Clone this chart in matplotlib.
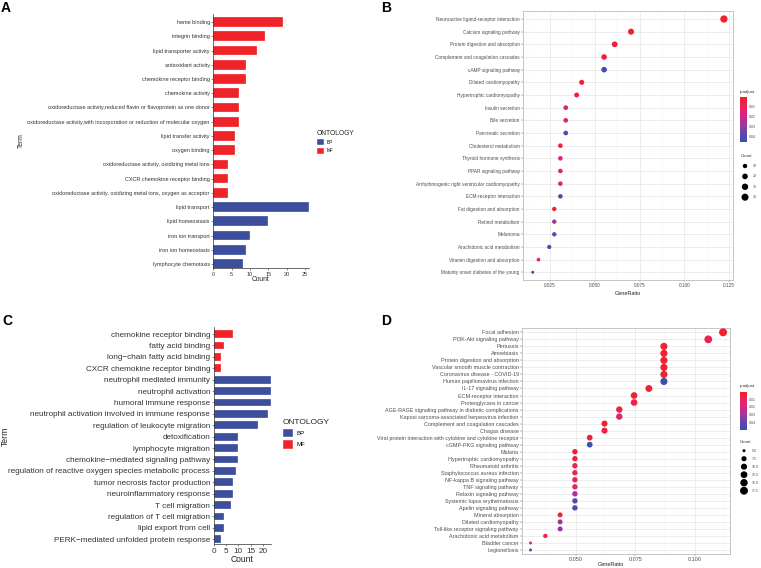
import numpy as np
import matplotlib
matplotlib.use('Agg')
import matplotlib.pyplot as plt
from matplotlib.colors import LinearSegmentedColormap, Normalize
from matplotlib.patches import Patch
import matplotlib.cm as cm

plt.rcParams['font.family'] = ['Liberation Sans', 'DejaVu Sans']

# --- Painel A: GO (BP/MF) ---
a_terms = ['heme binding', 'integrin binding', 'lipid transporter activity', 'antioxidant activity',
           'chemokine receptor binding', 'chemokine activity',
           'oxidoreductase activity,reduced flavin or flavoprotein as one donor',
           'oxidoreductase activity,with incorporation or reduction of molecular oxygen',
           'lipid transfer activity', 'oxygen binding', 'oxidoreductase activity, oxidizing metal ions',
           'CXCR chemokine receptor binding',
           'oxidoreductase activity, oxidizing metal ions, oxygen as acceptor',
           'lipid transport', 'lipid homeostasis', 'iron ion transport', 'iron ion homeostasis',
           'lymphocyte chemotaxis']
a_counts = [19, 14, 12, 9, 9, 7, 7, 7, 6, 6, 4, 4, 4, 26, 15, 10, 9, 8]
a_onto = ['MF'] * 13 + ['BP'] * 5

# --- Painel B: KEGG ---
b_terms = ['Neuroactive ligand-receptor interaction', 'Calcium signaling pathway',
           'Protein digestion and absorption', 'Complement and coagulation cascades',
           'cAMP signaling pathway', 'Dilated cardiomyopathy', 'Hypertrophic cardiomyopathy',
           'Insulin secretion', 'Bile secretion', 'Pancreatic secretion', 'Cholesterol metabolism',
           'Thyroid hormone synthesis', 'PPAR signaling pathway',
           'Arrhythmogenic right ventricular cardiomyopathy', 'ECM-receptor interaction',
           'Fat digestion and absorption', 'Retinol metabolism', 'Melanoma',
           'Arachidonic acid metabolism', 'Vitamin digestion and absorption',
           'Maturity onset diabetes of the young']
b_ratio = [0.1220, 0.0702, 0.0611, 0.0552, 0.0552, 0.0427, 0.0399, 0.0338, 0.0338, 0.0338,
           0.0308, 0.0308, 0.0308, 0.0308, 0.0308, 0.0274, 0.0274, 0.0274, 0.0246, 0.0186, 0.0154]
b_count = [44, 25, 22, 20, 20, 15, 14, 12, 12, 12, 11, 11, 11, 11, 11, 10, 10, 10, 9, 7, 6]
b_padj = [0.001, 0.002, 0.003, 0.004, 0.044, 0.004, 0.005, 0.017, 0.017, 0.040, 0.003,
          0.016, 0.016, 0.017, 0.038, 0.004, 0.028, 0.036, 0.040, 0.008, 0.045]

# --- Painel C: GO ---
c_terms = ['chemokine receptor binding', 'fatty acid binding', 'long\u2212chain fatty acid binding',
           'CXCR chemokine receptor binding', 'neutrophil mediated immunity', 'neutrophil activation',
           'humoral immune response', 'neutrophil activation involved in immune response',
           'regulation of leukocyte migration', 'detoxification', 'lymphocyte migration',
           'chemokine\u2212mediated signaling pathway',
           'regulation of reactive oxygen species metabolic process',
           'tumor necrosis factor production', 'neuroinflammatory response', 'T cell migration',
           'regulation of T cell migration', 'lipid export from cell',
           'PERK\u2212mediated unfolded protein response']
c_counts = [8, 4, 3, 3, 23, 23, 23, 22, 18, 10, 10, 10, 9, 8, 8, 7, 4, 4, 3]
c_onto = ['MF'] * 4 + ['BP'] * 15

# --- Painel D: KEGG ---
d_terms = ['Focal adhesion', 'PI3K-Akt signaling pathway', 'Pertussis', 'Amoebiasis',
           'Protein digestion and absorption', 'Vascular smooth muscle contraction',
           'Coronavirus disease - COVID-19', 'Human papillomavirus infection',
           'IL-17 signaling pathway', 'ECM-receptor interaction', 'Proteoglycans in cancer',
           'AGE-RAGE signaling pathway in diabetic complications',
           'Kaposi sarcoma-associated herpesvirus infection', 'Complement and coagulation cascades',
           'Chagas disease', 'Viral protein interaction with cytokine and cytokine receptor',
           'cGMP-PKG signaling pathway', 'Malaria', 'Hypertrophic cardiomyopathy',
           'Rheumatoid arthritis', 'Staphylococcus aureus infection', 'NF-kappa B signaling pathway',
           'TNF signaling pathway', 'Relaxin signaling pathway', 'Systemic lupus erythematosus',
           'Apelin signaling pathway', 'Mineral absorption', 'Dilated cardiomyopathy',
           'Toll-like receptor signaling pathway', 'Arachidonic acid metabolism', 'Bladder cancer',
           'Legionellosis']
d_ratio = [0.1118, 0.1056, 0.0870, 0.0870, 0.0870, 0.0870, 0.0870, 0.0870, 0.0807, 0.0745,
           0.0745, 0.0683, 0.0683, 0.0621, 0.0621, 0.0559, 0.0559, 0.0497, 0.0497, 0.0497,
           0.0497, 0.0497, 0.0497, 0.0497, 0.0497, 0.0497, 0.0435, 0.0435, 0.0435, 0.0373,
           0.0311, 0.0311]
d_count = [18, 17, 14, 14, 14, 14, 14, 14, 13, 12, 12, 11, 11, 10, 10, 9, 9, 8, 8, 8, 8, 8, 8,
           8, 8, 8, 7, 7, 7, 6, 5, 5]
d_padj = [0.001, 0.008, 0.002, 0.002, 0.002, 0.002, 0.003, 0.049, 0.003, 0.003, 0.008, 0.006,
          0.016, 0.003, 0.004, 0.004, 0.047, 0.004, 0.007, 0.008, 0.010, 0.012, 0.013, 0.030,
          0.040, 0.043, 0.004, 0.030, 0.032, 0.008, 0.014, 0.040]

ONTO_COLORS = {'BP': '#3D4F9C', 'MF': '#EE2428'}
PADJ_CMAP = LinearSegmentedColormap.from_list(
    'padj', [(0, '#F0202A'), (0.2, '#EC2455'), (0.42, '#D42688'), (0.62, '#9A389E'),
             (0.82, '#5A48A8'), (1, '#3A52A8')])

W, H = 761, 568
fig = plt.figure(figsize=(W / 100, H / 100), dpi=100)


def box(l, t, r, b):
    """Converte uma caixa em pixels (origem no topo) para coordenadas da figura."""
    return [l / W, 1 - b / H, (r - l) / W, (b - t) / H]


def px(x, y):
    return x / W, 1 - y / H


def bar_panel(rect, terms, counts, onto, xmax, xticks, fs, pad_bottom):
    ax = fig.add_axes(rect)
    n = len(terms)
    y = np.arange(n)
    ax.barh(y, counts, height=0.68, color=[ONTO_COLORS[o] for o in onto],
            edgecolor='white', linewidth=0.2)
    ax.set_ylim(n - 1 + pad_bottom, -0.6)
    ax.set_xlim(0, xmax)
    ax.set_yticks(y)
    ax.set_yticklabels(terms, fontsize=fs, color='#222222')
    ax.set_xticks(xticks)
    ax.tick_params(axis='x', labelsize=fs, colors='#333333', length=1.5, width=0.4, pad=1)
    ax.tick_params(axis='y', colors='#333333', length=1.5, width=0.4, pad=1)
    for s in ['top', 'right']:
        ax.spines[s].set_visible(False)
    for s in ['left', 'bottom']:
        ax.spines[s].set_color('#333333')
        ax.spines[s].set_linewidth(0.5)
    return ax


def dot_panel(rect, terms, ratio, count, padj, xlim, xticks, xticklabels, minor, fs, norm, dmin, dmax):
    ax = fig.add_axes(rect)
    n = len(terms)
    y = np.arange(n)
    cmin, cmax = min(count), max(count)

    def size(c):
        d = dmin + (dmax - dmin) * np.sqrt((np.asarray(c, float) - cmin) / (cmax - cmin))
        return (d * 0.72) ** 2

    ax.scatter(ratio, y, s=size(count), c=padj, cmap=PADJ_CMAP, norm=norm,
               edgecolors='none', zorder=3)
    ax.set_xlim(*xlim)
    ax.set_ylim(n - 1 + 0.6, -0.6)
    ax.set_yticks(y)
    ax.set_yticklabels(terms, fontsize=fs, color='#4D4D4D')
    ax.set_xticks(xticks)
    ax.set_xticklabels(xticklabels, fontsize=fs, color='#4D4D4D')
    ax.set_xticks(minor, minor=True)
    ax.tick_params(axis='both', which='major', length=1.2, width=0.3, colors='#4D4D4D', pad=1)
    ax.tick_params(axis='x', which='minor', length=0)
    ax.grid(True, which='major', color='#E6E6E6', linewidth=0.5, zorder=0)
    ax.grid(True, which='minor', axis='x', color='#F2F2F2', linewidth=0.3, zorder=0)
    ax.set_axisbelow(True)
    for s in ax.spines.values():
        s.set_color('#BBBBBB')
        s.set_linewidth(0.6)
    return ax, size


def onto_legend(x, y, fs_title, fs, key, gap):
    handles = [Patch(facecolor=ONTO_COLORS[k], edgecolor='white', linewidth=0.3, label=k)
               for k in ['BP', 'MF']]
    leg = fig.legend(handles=handles, title='ONTOLOGY', loc='upper left', bbox_to_anchor=px(x, y),
                     frameon=False, fontsize=fs, title_fontsize=fs_title, handlelength=key,
                     handleheight=key, labelspacing=gap, handletextpad=0.6, borderpad=0,
                     borderaxespad=0, alignment='left')
    leg.get_title().set_color('#222222')
    return leg


def padj_legend(rect, norm, title_y, fs):
    cax = fig.add_axes(rect)
    cb = fig.colorbar(cm.ScalarMappable(norm=norm, cmap=PADJ_CMAP), cax=cax)
    cb.outline.set_visible(False)
    cax.invert_yaxis()
    cb.set_ticks([0.01, 0.02, 0.03, 0.04])
    cb.set_ticklabels(['0.01', '0.02', '0.03', '0.04'])
    cax.tick_params(labelsize=fs, length=0, pad=1.5, colors='#4D4D4D')
    x0 = rect[0] * W
    fig.text(*px(x0, title_y), 'p.adjust', fontsize=fs + 0.6, ha='left', va='center', color='#333333')


def count_legend(size, values, labels, x_dot, x_txt, y0, dy, title_y, fs):
    fig.text(*px(x_dot - 4, title_y), 'Count', fontsize=fs + 0.6, ha='left', va='center', color='#333333')
    lax = fig.add_axes([0, 0, 1, 1], facecolor='none')
    lax.set_xlim(0, W)
    lax.set_ylim(H, 0)
    lax.axis('off')
    ys = y0 + dy * np.arange(len(values))
    lax.scatter([x_dot] * len(values), ys, s=size(values), color='black', edgecolors='none')
    for yy, lab in zip(ys, labels):
        lax.text(x_txt, yy, lab, fontsize=fs, ha='left', va='center', color='#4D4D4D')


# Painel A
axA = bar_panel(box(213.3, 13.5, 309, 268.3), a_terms, a_counts, a_onto, 26.1,
                [0, 5, 10, 15, 20, 25], 3.95, 0.3)
fig.text(*px(261, 279.5), 'Count', fontsize=4.8, ha='center', va='center', color='#222222')
fig.text(*px(21.7, 140.5), 'Term', fontsize=4.8, ha='center', va='center', rotation=90, color='#222222')
onto_legend(316.5, 130, 4.8, 3.4, 1.6, 0.5)

# Painel C
axC = bar_panel(box(213.7, 327.2, 270.8, 544.3), c_terms, c_counts, c_onto, 23.1,
                [0, 5, 10, 15, 20], 5.85, 0.44)
fig.text(*px(242, 559.5), 'Count', fontsize=6.2, ha='center', va='center', color='#222222')
fig.text(*px(5, 436.5), 'Term', fontsize=6.2, ha='center', va='center', rotation=90, color='#222222')
onto_legend(282.5, 418.5, 6.0, 4.4, 1.75, 0.5)

# Painel B
norm_b = Normalize(vmin=0.0006, vmax=0.046)
axB, size_b = dot_panel(box(522.7, 11.4, 732.7, 279.9), b_terms, b_ratio, b_count, b_padj,
                        (0.0098, 0.1269), [0.025, 0.05, 0.075, 0.1, 0.125],
                        ['0.025', '0.050', '0.075', '0.100', '0.125'],
                        [0.0125, 0.0375, 0.0625, 0.0875, 0.1125], 3.45, norm_b, 3.0, 7.3)
fig.text(*px(628, 293.5), 'GeneRatio', fontsize=4.0, ha='center', va='center', color='#222222')
padj_legend(box(740, 97, 747, 142), norm_b, 91.5, 2.6)
count_legend(size_b, [10, 20, 30, 40], ['10', '20', '30', '40'], 745, 752.5, 166, 10.4, 156, 2.6)

# Painel D
norm_d = Normalize(vmin=0.0, vmax=0.05)
axD, size_d = dot_panel(box(521.7, 328.1, 730, 554.2), d_terms, d_ratio, d_count, d_padj,
                        (0.0274, 0.1147), [0.05, 0.075, 0.1], ['0.050', '0.075', '0.100'],
                        [0.0375, 0.0625, 0.0875, 0.1125], 3.85, norm_d, 3.0, 8.0)
fig.text(*px(611, 565), 'GeneRatio', fontsize=4.0, ha='center', va='center', color='#222222')
padj_legend(box(740, 391.5, 747, 430), norm_d, 386, 2.6)
count_legend(size_d, [5.0, 7.5, 10.0, 12.5, 15.0, 17.5],
             ['5.0', '7.5', '10.0', '12.5', '15.0', '17.5'], 744, 751.5, 450.7, 8.0, 441.7, 2.6)

# Letras dos painéis
for lab, x, y in [('A', 1, 8), ('B', 381, 8), ('C', 2, 321), ('D', 381, 321)]:
    fig.text(*px(x, y), lab, fontsize=10, fontweight='bold', ha='left', va='center')

fig.savefig('out.png', dpi=100)
